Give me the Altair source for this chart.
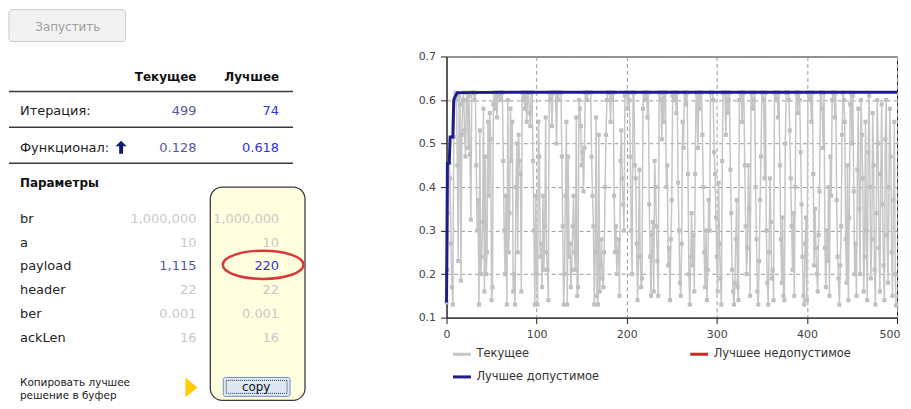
import altair as alt
import pandas as pd

# ---------------- layout helpers (page pixel -> plot-area pixel) ----------------
OX, OY = 447, 55


def px(x):
    return x - OX


def py(y):
    return y - OY


FONT = "DejaVu Sans"

# ---------------- chart data ----------------
current_values = [
    0.135, 0.21, 0.34, 0.455, 0.42, 0.27, 0.17, 0.13, 0.515, 0.60,
    0.617, 0.60, 0.45, 0.23, 0.61, 0.59, 0.185, 0.52, 0.60, 0.617,
    0.53, 0.47, 0.60, 0.617, 0.49, 0.61, 0.475, 0.325, 0.617, 0.617,
    0.617, 0.60, 0.617, 0.45, 0.30, 0.37, 0.13, 0.53, 0.20, 0.24,
    0.32, 0.58, 0.16, 0.47, 0.20, 0.25, 0.55, 0.38, 0.57, 0.51,
    0.14, 0.17, 0.59, 0.617, 0.58, 0.617, 0.56, 0.61, 0.617, 0.617,
    0.60, 0.617, 0.617, 0.46, 0.30, 0.20, 0.38, 0.13, 0.60, 0.25,
    0.34, 0.58, 0.46, 0.55, 0.16, 0.20, 0.13, 0.40, 0.50, 0.25,
    0.52, 0.46, 0.43, 0.16, 0.617, 0.60, 0.617, 0.58, 0.617, 0.55,
    0.617, 0.617, 0.57, 0.54, 0.617, 0.617, 0.46, 0.30, 0.13, 0.38,
    0.20, 0.13, 0.55, 0.47, 0.24, 0.27, 0.17, 0.38, 0.21, 0.31,
    0.56, 0.25, 0.21, 0.14, 0.617, 0.60, 0.617, 0.54, 0.617, 0.617,
    0.617, 0.617, 0.50, 0.617, 0.60, 0.617, 0.617, 0.617, 0.47, 0.31,
    0.13, 0.20, 0.38, 0.55, 0.13, 0.47, 0.24, 0.27, 0.17, 0.21,
    0.31, 0.38, 0.25, 0.21, 0.56, 0.15, 0.17, 0.60, 0.58, 0.54,
    0.45, 0.48, 0.39, 0.49, 0.617, 0.617, 0.60, 0.617, 0.617, 0.617,
    0.617, 0.47, 0.38, 0.31, 0.13, 0.25, 0.56, 0.15, 0.13, 0.52,
    0.16, 0.22, 0.28, 0.19, 0.17, 0.25, 0.40, 0.52, 0.60, 0.617,
    0.617, 0.617, 0.55, 0.617, 0.60, 0.617, 0.38, 0.25, 0.31, 0.20,
    0.25, 0.28, 0.15, 0.46, 0.53, 0.42, 0.36, 0.30, 0.61, 0.617,
    0.617, 0.58, 0.617, 0.60, 0.47, 0.30, 0.20, 0.617, 0.617, 0.45,
    0.42, 0.27, 0.14, 0.24, 0.44, 0.24, 0.17, 0.19, 0.58, 0.617,
    0.60, 0.617, 0.617, 0.56, 0.617, 0.36, 0.24, 0.15, 0.29, 0.32,
    0.16, 0.46, 0.40, 0.31, 0.23, 0.15, 0.617, 0.617, 0.60, 0.51,
    0.617, 0.55, 0.617, 0.617, 0.40, 0.45, 0.22, 0.26, 0.14, 0.28,
    0.37, 0.61, 0.617, 0.60, 0.617, 0.57, 0.617, 0.41, 0.30, 0.18,
    0.15, 0.27, 0.55, 0.49, 0.617, 0.617, 0.59, 0.617, 0.43, 0.20,
    0.13, 0.24, 0.34, 0.22, 0.29, 0.16, 0.43, 0.617, 0.617, 0.49,
    0.617, 0.58, 0.617, 0.617, 0.52, 0.40, 0.25, 0.17, 0.30, 0.14,
    0.21, 0.37, 0.30, 0.617, 0.617, 0.617, 0.60, 0.48, 0.43, 0.33,
    0.24, 0.16, 0.41, 0.27, 0.19, 0.13, 0.46, 0.617, 0.617, 0.617,
    0.52, 0.617, 0.57, 0.60, 0.617, 0.44, 0.34, 0.21, 0.16, 0.13,
    0.18, 0.28, 0.37, 0.17, 0.14, 0.60, 0.617, 0.617, 0.55, 0.617,
    0.617, 0.45, 0.31, 0.20, 0.26, 0.45, 0.35, 0.15, 0.617, 0.617,
    0.58, 0.60, 0.617, 0.40, 0.28, 0.16, 0.13, 0.23, 0.37, 0.47,
    0.617, 0.617, 0.60, 0.42, 0.617, 0.30, 0.18, 0.13, 0.25, 0.42,
    0.32, 0.19, 0.21, 0.14, 0.617, 0.617, 0.60, 0.617, 0.56, 0.617,
    0.45, 0.28, 0.18, 0.33, 0.15, 0.14, 0.50, 0.617, 0.617, 0.617,
    0.60, 0.53, 0.42, 0.31, 0.21, 0.34, 0.15, 0.40, 0.617, 0.617,
    0.57, 0.617, 0.60, 0.48, 0.36, 0.24, 0.15, 0.13, 0.27, 0.33,
    0.14, 0.617, 0.617, 0.60, 0.617, 0.55, 0.617, 0.43, 0.22, 0.35,
    0.26, 0.20, 0.16, 0.29, 0.39, 0.617, 0.617, 0.58, 0.49, 0.617,
    0.26, 0.17, 0.30, 0.23, 0.40, 0.15, 0.47, 0.38, 0.60, 0.617,
    0.617, 0.56, 0.617, 0.37, 0.24, 0.19, 0.13, 0.22, 0.31, 0.52,
    0.617, 0.60, 0.55, 0.28, 0.18, 0.45, 0.14, 0.33, 0.59, 0.617,
    0.50, 0.61, 0.39, 0.20, 0.27, 0.15, 0.44, 0.58, 0.35, 0.20,
    0.60, 0.52, 0.42, 0.16, 0.24, 0.55, 0.30, 0.14, 0.48, 0.61,
    0.40, 0.19, 0.28, 0.57, 0.45, 0.21, 0.13, 0.34, 0.60, 0.50,
    0.26, 0.16, 0.43, 0.59, 0.36, 0.22, 0.14, 0.51, 0.60, 0.29,
    0.18, 0.40, 0.58, 0.47, 0.25, 0.15, 0.37, 0.55, 0.20, 0.128,
]
iterations = list(range(len(current_values)))

best_iters = [0, 1, 3, 4, 7, 8, 10, 12, 74, 500]
best_values = [0.135, 0.455, 0.455, 0.515, 0.515, 0.600, 0.610, 0.617, 0.618, 0.618]

series_names = ["Текущее", "Лучшее недопустимое", "Лучшее допустимое"]
series_colors = ["#c6c6c6", "#e02424", "#1c1c8c"]

x_ticks = [0, 100, 200, 300, 400, 500]
y_ticks = [0.1, 0.2, 0.3, 0.4, 0.5, 0.6, 0.7]

# ---------------- panel (table) data ----------------
run_label = "Запустить"
table_cols = ["Текущее", "Лучшее"]
summary_labels = ["Итерация:", "Функционал:"]
summary_current = [499, 0.128]
summary_best = [74, 0.618]
params_title = "Параметры"
param_names = ["br", "a", "payload", "header", "ber", "ackLen"]
param_current = [1000000, 10, 1115, 22, 0.001, 16]
param_best = [1000000, 10, 220, 22, 0.001, 16]
param_changed = [False, False, True, False, False, False]
copy_hint = ["Копировать лучшее", "решение в буфер"]
copy_label = "copy"

tones = ["cur", "best", "off"]
tone_colors = ["#5656a8", "#3232e0", "#c8c8c8"]

# ---------------- plot ----------------
cur_df = pd.DataFrame({"iter": iterations, "value": current_values, "series": series_names[0]})
best_df = pd.DataFrame({"iter": best_iters, "value": best_values, "series": series_names[2]})

legend = alt.Legend(
    title=None, orient="none", legendX=5, legendY=288, columns=2, direction="horizontal",
    columnPadding=84, rowPadding=6, symbolType="stroke", symbolSize=324,
    symbolStrokeWidth=3, labelFont=FONT, labelFontSize=11.5, labelColor="#333",
    labelOffset=4, padding=0,
)
color = alt.Color("series:N", scale=alt.Scale(domain=series_names, range=series_colors), legend=legend)
xenc = alt.X(
    "iter:Q", scale=alt.Scale(domain=[0, 500], nice=False, zero=False),
    axis=alt.Axis(
        orient="bottom", values=x_ticks, title=None, format="d", labelFlush=False,
        labelAlign=alt.expr("datum.value >= 500 ? 'right' : 'center'"),
        labelOffset=alt.expr("datum.value >= 500 ? 3 : 0"),
    ),
)
yenc = alt.Y(
    "value:Q", scale=alt.Scale(domain=[0.1, 0.7], nice=False, zero=False),
    axis=alt.Axis(orient="left", values=y_ticks, title=None, format=".1f", labelFlush=False),
)

gray_line = alt.Chart(cur_df).mark_line(strokeWidth=1.5).encode(x=xenc, y=yenc, color=color)
gray_pts = alt.Chart(cur_df).mark_point(
    shape="square", filled=True, size=17, opacity=1, color="#c0c0c0"
).encode(x=xenc, y=yenc)
best_line = alt.Chart(best_df).mark_line(strokeWidth=3).encode(x=xenc, y=yenc, color=color)
plot = alt.layer(gray_line, gray_pts, best_line)

# ---------------- panel ----------------
one = pd.DataFrame({"k": [0]})


def rect(x1, y1, x2, y2, **kw):
    return alt.Chart(one).mark_rect(**kw).encode(
        x=alt.value(px(x1)), x2=alt.value(px(x2)), y=alt.value(py(y1)), y2=alt.value(py(y2))
    )


def label(text, x, y, **kw):
    return alt.Chart(pd.DataFrame({"t": [text]})).mark_text(baseline="middle", font=FONT, **kw).encode(
        x=alt.value(px(x)), y=alt.value(py(y)), text="t:N"
    )


def hrule(y, x1=8, x2=293):
    return alt.Chart(one).mark_rule(color="#3a3a3a", strokeWidth=1.5).encode(
        x=alt.value(px(x1)), x2=alt.value(px(x2)), y=alt.value(py(y))
    )


col_scale = alt.Scale(type="point", domain=table_cols, range=[px(196), px(279)], padding=0)
tone_scale = alt.Scale(domain=tones, range=tone_colors)

layers = [plot]

# run button
layers.append(rect(8, 8, 125, 40, fill="#f2f2f2", stroke="#c9c9c9", strokeWidth=1, cornerRadius=3))
layers.append(label(run_label, 67, 25, align="center", fontSize=12, color="#a0a0a0"))

# header
layers.append(
    alt.Chart(pd.DataFrame({"col": table_cols})).mark_text(
        align="right", baseline="middle", font=FONT, fontWeight="bold", fontSize=12, color="#111"
    ).encode(x=alt.X("col:N", scale=col_scale, axis=None), y=alt.value(py(76)), text="col:N")
)
for yy in (90, 126, 162):
    layers.append(hrule(yy))

# summary rows
sum_rows = []
for i, lab in enumerate(summary_labels):
    sum_rows.append({"label": lab, "col": table_cols[0], "val": summary_current[i], "tone": "cur"})
    sum_rows.append({"label": lab, "col": table_cols[1], "val": summary_best[i], "tone": "best"})
sum_df = pd.DataFrame(sum_rows)
sum_y = alt.Y("label:N", scale=alt.Scale(type="point", domain=summary_labels, range=[py(110), py(147)], padding=0), axis=None)
layers.append(
    alt.Chart(pd.DataFrame({"label": summary_labels})).mark_text(
        align="left", baseline="middle", font=FONT, fontSize=13, color="#222"
    ).encode(x=alt.value(px(19)), y=sum_y, text="label:N")
)
layers.append(
    alt.Chart(sum_df).mark_text(align="right", baseline="middle", font=FONT, fontSize=13).encode(
        x=alt.X("col:N", scale=col_scale, axis=None), y=sum_y,
        text=alt.Text("val:Q", format=","),
        color=alt.Color("tone:N", scale=tone_scale, legend=None),
    )
)
# maximise arrow
layers.append(
    alt.Chart(one).mark_point(
        shape="M 0 -1 L 0.85 -0.15 L 0.3 -0.15 L 0.3 1 L -0.3 1 L -0.3 -0.15 L -0.85 -0.15 Z",
        filled=True, size=169, opacity=1, color="#0c1a70",
    ).encode(x=alt.value(px(120.5)), y=alt.value(py(146)))
)

# parameters
layers.append(label(params_title, 19, 182, align="left", fontSize=12, fontWeight="bold", color="#111"))
layers.append(rect(210, 186, 305, 400, fill="#ffffe0", stroke="#3c3c3c", strokeWidth=1.3, cornerRadius=12))

par_rows = []
for i, name in enumerate(param_names):
    par_rows.append({"param": name, "col": table_cols[0], "val": param_current[i], "tone": "cur" if param_changed[i] else "off"})
    par_rows.append({"param": name, "col": table_cols[1], "val": param_best[i], "tone": "best" if param_changed[i] else "off"})
par_df = pd.DataFrame(par_rows)
par_y = alt.Y("param:N", scale=alt.Scale(type="point", domain=param_names, range=[py(218), py(337)], padding=0), axis=None)
layers.append(
    alt.Chart(pd.DataFrame({"param": param_names})).mark_text(
        align="left", baseline="middle", font=FONT, fontSize=13, color="#222"
    ).encode(x=alt.value(px(19)), y=par_y, text="param:N")
)
layers.append(
    alt.Chart(par_df).mark_text(align="right", baseline="middle", font=FONT, fontSize=13).encode(
        x=alt.X("col:N", scale=col_scale, axis=None), y=par_y,
        text=alt.Text("val:Q", format=","),
        color=alt.Color("tone:N", scale=tone_scale, legend=None),
    )
)
# red ellipse around the changed best value
layers.append(
    alt.Chart(one).mark_point(
        shape="M -1 0 A 1 0.35 0 1 0 1 0 A 1 0.35 0 1 0 -1 0 Z",
        filled=False, size=6561, opacity=1, color="#d8383a", strokeWidth=2.5,
    ).encode(x=alt.value(px(263)), y=alt.value(py(264)))
)

# copy hint
layers.append(
    alt.Chart(pd.DataFrame({"t": copy_hint})).mark_text(
        align="left", baseline="middle", font=FONT, fontSize=10.5, color="#222"
    ).encode(
        x=alt.value(px(19)),
        y=alt.Y("t:N", scale=alt.Scale(type="point", domain=copy_hint, range=[py(383), py(396)], padding=0), axis=None),
        text="t:N",
    )
)
layers.append(
    alt.Chart(one).mark_point(
        shape="M -0.6 -1 L 0.6 0 L -0.6 1 Z", filled=True, size=400, opacity=1, color="#ffcc00"
    ).encode(x=alt.value(px(191)), y=alt.value(py(387)))
)
layers.append(rect(223, 377, 290, 396, fill="#dce8f6", stroke="#6f8fbf", strokeWidth=1, cornerRadius=2))
layers.append(rect(226, 380, 287, 393, fill="transparent", stroke="#333", strokeWidth=1, strokeDash=[1, 1]))
layers.append(label(copy_label, 256, 387, align="center", fontSize=12, color="#111"))

chart = (
    alt.layer(*layers)
    .resolve_scale(x="independent", y="independent", color="independent")
    .properties(width=452, height=262, padding=0)
    .configure_view(stroke="#222", strokeWidth=1)
    .configure_axis(
        labelFont=FONT, labelFontSize=11, labelColor="#444", domainColor="#222",
        tickColor="#222", tickSize=6, labelPadding=5, grid=True,
        gridColor="#9a9a9a", gridDash=[4, 3], gridWidth=1,
    )
)

chart.save("out.html", embed_options={"renderer": "svg", "actions": False})
